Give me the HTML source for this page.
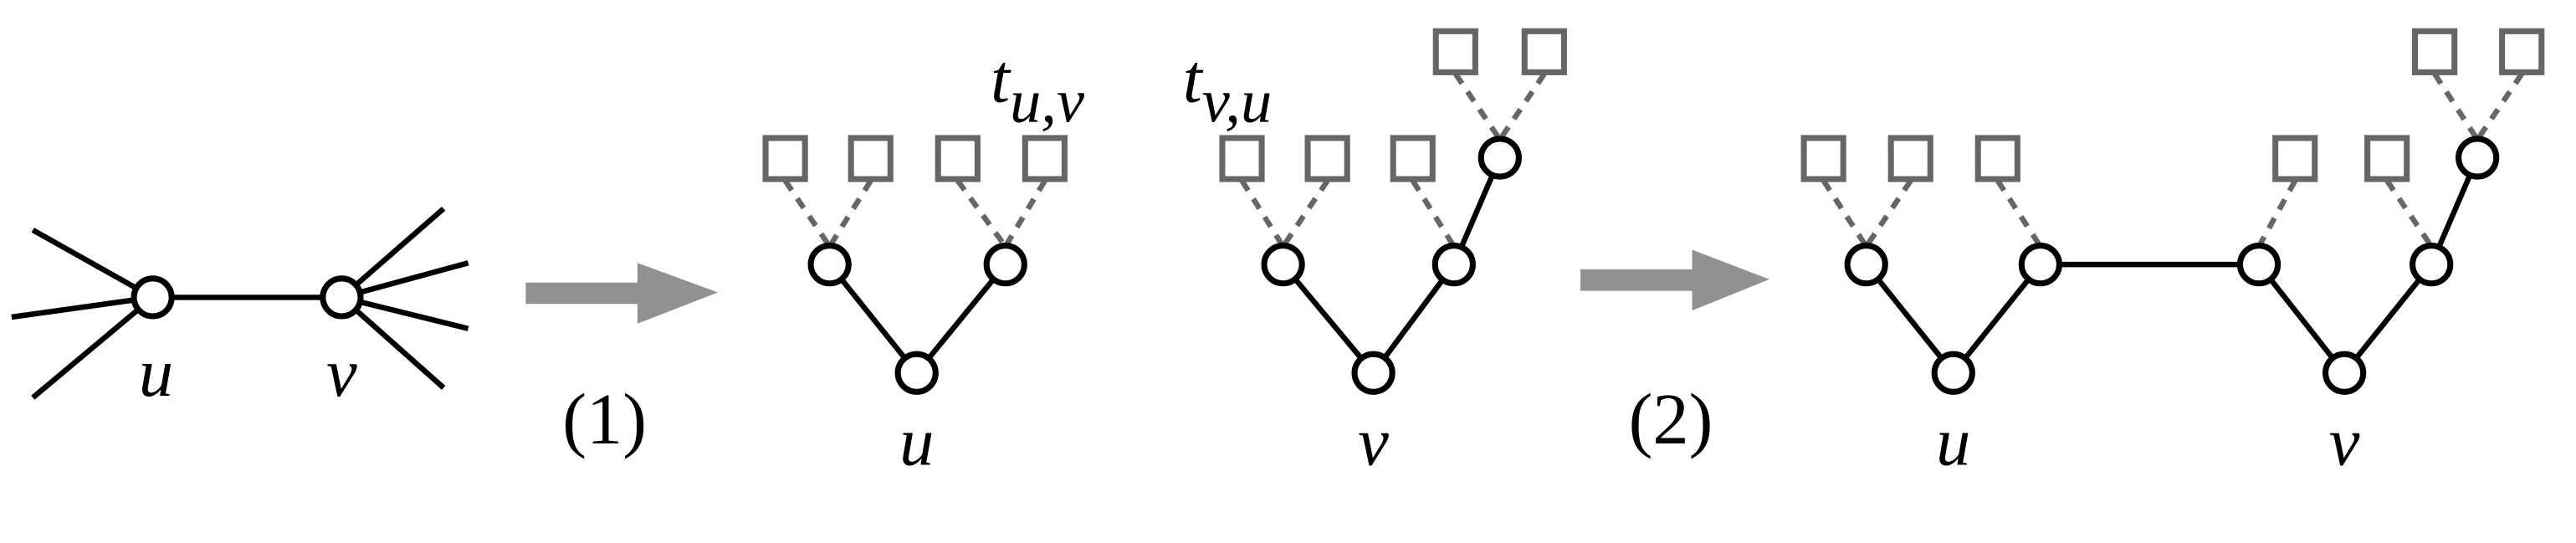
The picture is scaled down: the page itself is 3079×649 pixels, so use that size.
<!DOCTYPE html>
<html><head><meta charset="utf-8"><style>
html,body{margin:0;padding:0;background:#fff;}
svg{display:block;}
text{font-family:"Liberation Serif",serif;font-style:italic;fill:#000;}
.n{fill:#fff;stroke:#000;stroke-width:3.6;}
.e{stroke:#000;stroke-width:3.3;fill:none;}
.s{fill:#fff;stroke:#666;stroke-width:3.6;}
.d{stroke:#666;stroke-width:3.3;stroke-dasharray:7,6;fill:none;}
.ar{fill:#919191;}
</style></head><body>
<svg width="3079" height="649" viewBox="0 0 1568 330.5" preserveAspectRatio="none" xmlns="http://www.w3.org/2000/svg">
<g class="e">
<line x1="93" y1="181" x2="20" y2="140"/><line x1="93" y1="181" x2="7" y2="193"/><line x1="93" y1="181" x2="20" y2="242"/>
<line x1="93" y1="181" x2="208" y2="181"/>
<line x1="208" y1="181" x2="270" y2="127"/><line x1="208" y1="181" x2="285" y2="160"/><line x1="208" y1="181" x2="285" y2="200"/><line x1="208" y1="181" x2="270" y2="236"/>
</g>
<circle class="n" cx="93" cy="181" r="11.5"/><circle class="n" cx="208" cy="181" r="11.5"/>
<text x="95" y="241" font-size="42" text-anchor="middle">u</text>
<text x="208" y="241" font-size="42" text-anchor="middle">v</text>
<polygon class="ar" points="320,172 388,172 388,160 437,178 388,197 388,185 320,185"/>
<text x="368" y="270" font-size="44" text-anchor="middle" style="font-style:normal">(1)</text>
<g class="d">
<line x1="478" y1="110" x2="505" y2="150"/><line x1="530" y1="110" x2="505" y2="150"/>
<line x1="583" y1="110" x2="612" y2="150"/><line x1="636" y1="110" x2="612" y2="150"/>
</g>
<g class="e"><line x1="558" y1="227" x2="505" y2="161"/><line x1="558" y1="227" x2="612" y2="161"/></g>
<rect class="s" x="466" y="84" width="24" height="25"/><rect class="s" x="518" y="84" width="24" height="25"/>
<rect class="s" x="571" y="84" width="24" height="25"/><rect class="s" x="624" y="84" width="24" height="25"/>
<circle class="n" cx="505" cy="161" r="11.5"/><circle class="n" cx="612" cy="161" r="11.5"/><circle class="n" cx="558" cy="227" r="11.5"/>
<text x="558" y="283" font-size="42" text-anchor="middle">u</text>
<text x="603" y="62" font-size="42">t<tspan font-size="38" dy="12">u,v</tspan></text>
<g class="d">
<line x1="756" y1="110" x2="781" y2="150"/><line x1="808" y1="110" x2="781" y2="150"/>
<line x1="860" y1="110" x2="885" y2="150"/>
<line x1="886" y1="45" x2="913" y2="85"/><line x1="940" y1="45" x2="913" y2="85"/>
</g>
<g class="e"><line x1="836" y1="227" x2="781" y2="161"/><line x1="836" y1="227" x2="885" y2="161"/><line x1="885" y1="161" x2="913" y2="96"/></g>
<rect class="s" x="744" y="84" width="24" height="25"/><rect class="s" x="796" y="84" width="24" height="25"/><rect class="s" x="848" y="84" width="24" height="25"/>
<rect class="s" x="874" y="19" width="24" height="25"/><rect class="s" x="928" y="19" width="24" height="25"/>
<circle class="n" cx="781" cy="161" r="11.5"/><circle class="n" cx="885" cy="161" r="11.5"/><circle class="n" cx="836" cy="227" r="11.5"/><circle class="n" cx="913" cy="96" r="11.5"/>
<text x="836" y="283" font-size="42" text-anchor="middle">v</text>
<text x="720" y="62" font-size="42">t<tspan font-size="38" dy="12">v,u</tspan></text>
<polygon class="ar" points="962,164 1030,164 1030,152 1077,170 1030,189 1030,177 962,177"/>
<text x="1017" y="270" font-size="44" text-anchor="middle" style="font-style:normal">(2)</text>
<g class="d">
<line x1="1110" y1="110" x2="1136" y2="150"/><line x1="1163" y1="110" x2="1136" y2="150"/>
<line x1="1216" y1="110" x2="1242" y2="150"/>
<line x1="1397" y1="110" x2="1375" y2="150"/>
<line x1="1453" y1="110" x2="1480" y2="150"/>
<line x1="1482" y1="45" x2="1508" y2="85"/><line x1="1535" y1="45" x2="1508" y2="85"/>
</g>
<g class="e">
<line x1="1189" y1="227" x2="1136" y2="161"/><line x1="1189" y1="227" x2="1242" y2="161"/>
<line x1="1242" y1="161" x2="1375" y2="161"/>
<line x1="1427" y1="227" x2="1375" y2="161"/><line x1="1427" y1="227" x2="1480" y2="161"/>
<line x1="1480" y1="161" x2="1508" y2="96"/>
</g>
<rect class="s" x="1098" y="84" width="24" height="25"/><rect class="s" x="1151" y="84" width="24" height="25"/><rect class="s" x="1204" y="84" width="24" height="25"/>
<rect class="s" x="1385" y="84" width="24" height="25"/><rect class="s" x="1441" y="84" width="24" height="25"/>
<rect class="s" x="1470" y="19" width="24" height="25"/><rect class="s" x="1523" y="19" width="24" height="25"/>
<circle class="n" cx="1136" cy="161" r="11.5"/><circle class="n" cx="1242" cy="161" r="11.5"/><circle class="n" cx="1189" cy="227" r="11.5"/>
<circle class="n" cx="1375" cy="161" r="11.5"/><circle class="n" cx="1480" cy="161" r="11.5"/><circle class="n" cx="1427" cy="227" r="11.5"/><circle class="n" cx="1508" cy="96" r="11.5"/>
<text x="1189" y="283" font-size="42" text-anchor="middle">u</text>
<text x="1427" y="283" font-size="42" text-anchor="middle">v</text>
</svg>
</body></html>
